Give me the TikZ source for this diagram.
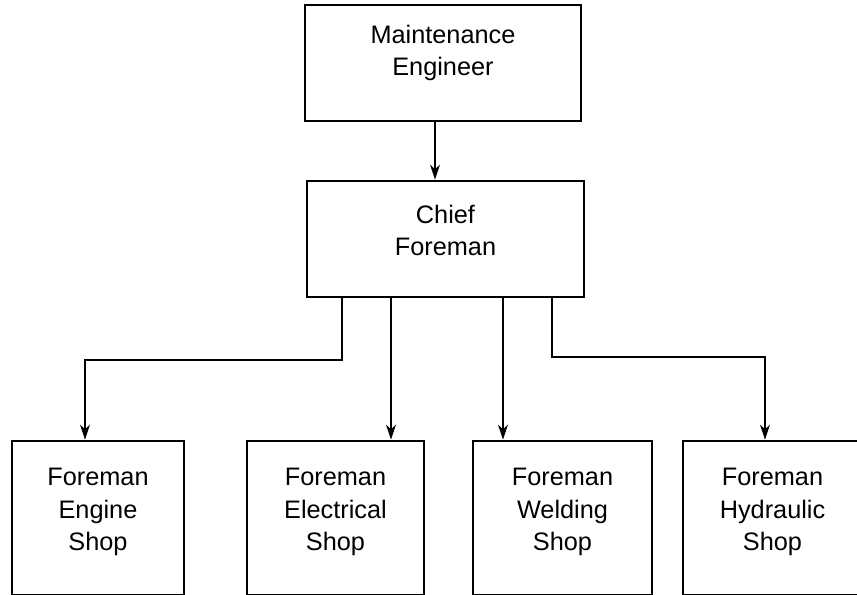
\documentclass[tikz,border=0pt]{standalone}
\usepackage{fontspec}
\setmainfont{Liberation Sans}
\usetikzlibrary{arrows.meta,positioning,calc}

\begin{document}
\begin{tikzpicture}[
    font=\fontsize{14.4}{18.5}\selectfont,
    >={Stealth[length=3mm,width=2mm]},
    box/.style={draw, line width=1.6pt, align=center, inner sep=0pt},
    head/.style={
        box,
        minimum width=5.52cm,
        minimum height=2.32cm,
        text depth=14.3pt
    },
    chiefbox/.style={
        box,
        minimum width=5.54cm,
        minimum height=2.32cm,
        text depth=9.9pt
    },
    shopbox/.style={box, minimum height=3.08cm, text depth=9.5pt},
    conn/.style={->, line width=1.2pt}
]

\useasboundingbox (0,0) rectangle (17.14,-11.88);

% Top of the chart
\node[head] (maint) at (8.86,-1.26) {Maintenance\\Engineer};
\node[chiefbox] (chief) at (8.91,-4.78) {Chief\\Foreman};

% =====================================================
% SHOP FOREMEN
% =====================================================

\node[shopbox, minimum width=3.44cm] (engine) at (1.96,-10.36) {Foreman\\Engine\\Shop};
\node[shopbox, minimum width=3.54cm] (electrical) at (6.71,-10.36) {Foreman\\Electrical\\Shop};
\node[shopbox, minimum width=3.58cm] (welding) at (11.25,-10.36) {Foreman\\Welding\\Shop};
\node[shopbox, minimum width=3.58cm] (hydraulic) at (15.45,-10.36) {Foreman\\Hydraulic\\Shop};

% =====================================================
% CONNECTORS
% =====================================================

\draw[conn] ([xshift=-1.6mm]maint.south) -- ([xshift=-1.6mm]maint.south |- chief.north);

\draw[conn] ([xshift=-20.7mm]chief.south) -- ++(0,-1.24) -| ([xshift=-2.6mm]engine.north);
\draw[conn] ([xshift=11.1mm]electrical.north |- chief.south) -- ([xshift=11.1mm]electrical.north);
\draw[conn] ([xshift=-11.9mm]welding.north |- chief.south) -- ([xshift=-11.9mm]welding.north);
\draw[conn] ([xshift=21.3mm]chief.south) -- ++(0,-1.18) -| ([xshift=-1.5mm]hydraulic.north);

\end{tikzpicture}
\end{document}
